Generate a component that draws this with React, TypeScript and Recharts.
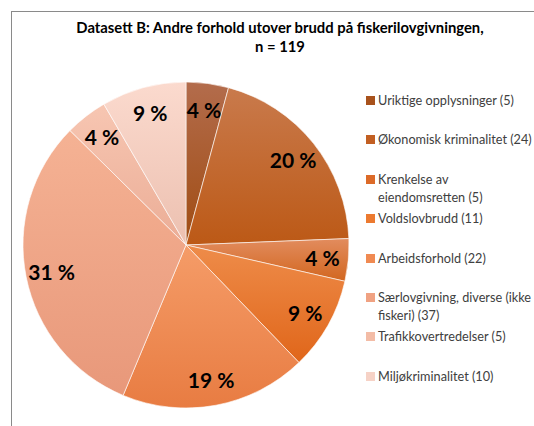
import { PieChart, Pie, Cell, Legend } from 'recharts'

const categories = [
  'Uriktige opplysninger (5)',
  'Økonomisk kriminalitet (24)',
  'Krenkelse av eiendomsretten (5)',
  'Voldslovbrudd (11)',
  'Arbeidsforhold (22)',
  'Særlovgivning, diverse (ikke fiskeri) (37)',
  'Trafikkovertredelser (5)',
  'Miljøkriminalitet (10)',
]
const counts = [5, 24, 5, 11, 22, 37, 5, 10]
const percentLabels = ['4 %', '20 %', '4 %', '9 %', '19 %', '31 %', '4 %', '9 %']

// [top, bottom, legend swatch]
const colors = [
  ['#b36c4c', '#a04c12', '#a8521c'],
  ['#c97a4c', '#bc5916', '#c25f22'],
  ['#e28c5e', '#d2661f', '#dc6a28'],
  ['#ee8c4a', '#e0661a', '#ec7a30'],
  ['#f59c68', '#e87c42', '#f08a52'],
  ['#f5b294', '#e8987a', '#f0a282'],
  ['#f7c6b2', '#ebad96', '#f3bca6'],
  ['#fbdace', '#ecc0b0', '#f6d2c6'],
]

const data = categories.map((name, i) => ({ name, value: counts[i], label: percentLabels[i] }))

const FONT = 'Lato, "Noto Sans", sans-serif'
const RAD = Math.PI / 180

const renderLabel = (p: any) => {
  const r = 137
  const x = p.cx + r * Math.cos(-p.midAngle * RAD)
  const y = p.cy + r * Math.sin(-p.midAngle * RAD)
  return (
    <text x={x} y={y} textAnchor="middle" dominantBaseline="central" fill="#000" fontSize={21} fontWeight={700} fontFamily={FONT}>
      {data[p.index].label}
    </text>
  )
}

const renderLegend = () => (
  <div style={{ fontFamily: FONT, fontSize: 12.7, color: '#404040' }}>
    {data.map((d, i) => (
      <div key={i} style={{ height: 39.4, display: 'flex', alignItems: 'flex-start' }}>
        <span style={{ width: 9, height: 9, marginTop: 5, marginRight: 3, flex: 'none', background: colors[i][2] }} />
        <span style={{ lineHeight: '18px', marginTop: 0, width: 158, flex: 'none' }}>{d.name}</span>
      </div>
    ))}
  </div>
)

export default function App() {
  return (
    <div style={{ position: 'absolute', left: 0, top: 0, width: 534, height: 426, overflow: 'hidden', background: '#fff' }}>
      <div style={{ position: 'absolute', left: 11, top: 11, width: 560, height: 440, border: '1px solid #8a8a8a' }} />
      <div style={{ position: 'absolute', left: 11, top: 18, width: 538, textAlign: 'center', fontFamily: FONT, fontWeight: 700, fontSize: 14.8, lineHeight: '19px', color: '#000' }}>
        Datasett B: Andre forhold utover brudd på fiskerilovgivningen,
        <br />n = 119
      </div>
      <div style={{ position: 'absolute', left: 0, top: 0 }}>
        <PieChart width={534} height={426} margin={{ top: 0, right: 0, bottom: 0, left: 0 }}>
          <defs>
            {colors.map((c, i) => (
              <linearGradient key={i} id={`g${i}`} x1="0" y1="0" x2="0" y2="1">
                <stop offset="0%" stopColor={c[0]} />
                <stop offset="100%" stopColor={c[1]} />
              </linearGradient>
            ))}
          </defs>
          <Pie
            data={data}
            dataKey="value"
            nameKey="name"
            cx={186}
            cy={245}
            outerRadius={163}
            startAngle={90}
            endAngle={-270}
            stroke="#fff"
            strokeWidth={0.6}
            label={renderLabel}
            labelLine={false}
            isAnimationActive={false}
          >
            {data.map((_, i) => (
              <Cell key={i} fill={`url(#g${i})`} />
            ))}
          </Pie>
          <Legend
            layout="vertical"
            verticalAlign="top"
            align="right"
            content={renderLegend}
            wrapperStyle={{ left: 366, top: 91, width: 175 }}
          />
        </PieChart>
      </div>
    </div>
  )
}
